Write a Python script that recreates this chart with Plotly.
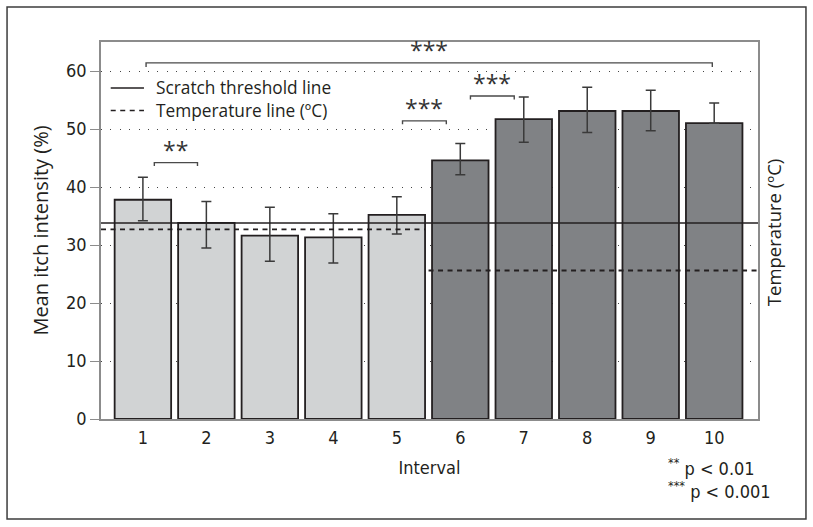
import plotly.graph_objects as go

# ---------------- data ----------------
intervals = [1, 2, 3, 4, 5, 6, 7, 8, 9, 10]
tick_labels = ["1", "2", "3", "4", "5", "6", "7", "8", "9", "10"]
mean_itch = [37.8, 33.8, 31.6, 31.3, 35.2, 44.6, 51.7, 53.1, 53.1, 51.0]
err_upper = [41.7, 37.5, 36.5, 35.4, 38.3, 47.5, 55.5, 57.2, 56.7, 54.5]
err_lower = [34.2, 29.5, 27.2, 26.9, 31.9, 42.1, 47.7, 49.4, 49.7, 51.0]
phase = ["warm"] * 5 + ["cool"] * 5

scratch_threshold = 33.8
temp_phase1 = 32.7
temp_phase2 = 25.6

sig_x0 = [1.18, 5.09, 6.16, 1.05]
sig_x1 = [1.86, 5.78, 6.85, 9.97]
sig_y = [44.2, 51.4, 55.7, 61.4]
sig_text = ["**", "***", "***", "***"]

legend_labels = ["Scratch threshold line", "Temperature line (ºC)"]

y_range = [0, 65]
x_range = [0.34, 10.69]
bar_width = 0.89

# ---------------- styles ----------------
INK = "#231f20"
FRAME = "#8c8c8c"
phase_color = {"warm": "#d1d3d4", "cool": "#808285"}
FONT_MAIN = "Open Sans, Noto Sans, sans-serif"
FONT_COND = "Liberation Sans Narrow, DejaVu Sans Condensed, Open Sans, sans-serif"
DASH = "5px,4.5px"

fig = go.Figure()

fig.add_trace(go.Bar(
    x=intervals,
    y=mean_itch,
    width=bar_width,
    marker=dict(color=[phase_color[p] for p in phase],
                line=dict(color=INK, width=1.8)),
    error_y=dict(type="data", symmetric=False,
                 array=[u - m for u, m in zip(err_upper, mean_itch)],
                 arrayminus=[m - l for m, l in zip(mean_itch, err_lower)],
                 color="#3a3a3a", thickness=1.5, width=5),
    showlegend=False,
    hoverinfo="skip",
))

fig.add_trace(go.Scatter(
    x=[x_range[0], x_range[1]],
    y=[scratch_threshold, scratch_threshold],
    mode="lines",
    line=dict(color=INK, width=1.6),
    name=legend_labels[0],
    showlegend=False,
))

split_left = 5 + bar_width / 2
split_right = 5.5
fig.add_trace(go.Scatter(
    x=[x_range[0], split_left, None, split_right, x_range[1]],
    y=[temp_phase1, temp_phase1, None, temp_phase2, temp_phase2],
    mode="lines",
    connectgaps=False,
    line=dict(color=INK, width=1.8, dash=DASH),
    name=legend_labels[1],
    showlegend=False,
))

shapes = []
annotations = []
for x0, x1, y, t in zip(sig_x0, sig_x1, sig_y, sig_text):
    d = 0.7 if x1 - x0 > 3 else 0.6
    shapes.append(dict(type="path", xref="x", yref="y",
                       path=f"M {x0},{y - d} L {x0},{y} L {x1},{y} L {x1},{y - d}",
                       line=dict(color="#4a4a4a", width=1.4)))
    annotations.append(dict(x=(x0 + x1) / 2, y=y, xref="x", yref="y",
                            text=t, showarrow=False, yanchor="bottom",
                            yshift=-5,
                            font=dict(family=FONT_MAIN, size=23, color="#333333")))

# hand-drawn legend (line samples + labels)
leg_x0, leg_x1, leg_tx = 0.0148, 0.0654, 0.0807
leg_y = [0.8780, 0.8183]
leg_dash = ["solid", DASH]
for lbl, ly, dsh in zip(legend_labels, leg_y, leg_dash):
    shapes.append(dict(type="line", xref="paper", yref="paper",
                       x0=leg_x0, x1=leg_x1, y0=ly, y1=ly,
                       line=dict(color=INK, width=1.6, dash=dsh)))
    annotations.append(dict(x=leg_tx, y=ly, xref="paper", yref="paper",
                            text=lbl, showarrow=False,
                            xanchor="left", yanchor="middle",
                            font=dict(family=FONT_MAIN, size=17.3, color=INK)))

# outer frame
shapes.append(dict(type="rect", xref="paper", yref="paper",
                   x0=-0.143, x1=1.073, y0=-0.265, y1=1.093,
                   line=dict(color="#3c3c3c", width=1.5)))

# right axis title
annotations.append(dict(x=1.024, y=0.495, xref="paper", yref="paper",
                        text="Temperature (ºC)", textangle=-90, showarrow=False,
                        xanchor="center", yanchor="middle",
                        font=dict(family=FONT_MAIN, size=18.5, color=INK)))
# footnotes
annotations.append(dict(x=0.86, y=-0.1265, xref="paper", yref="paper",
                        text="<sup>**</sup> p &lt; 0.01",
                        showarrow=False, xanchor="left", yanchor="middle",
                        font=dict(family=FONT_COND, size=18, color=INK)))
annotations.append(dict(x=0.86, y=-0.188, xref="paper", yref="paper",
                        text="<sup>***</sup> p &lt; 0.001",
                        showarrow=False, xanchor="left", yanchor="middle",
                        font=dict(family=FONT_COND, size=18, color=INK)))

fig.update_layout(
    width=813, height=527,
    margin=dict(l=101, r=55, t=42, b=108),
    plot_bgcolor="white", paper_bgcolor="white",
    shapes=shapes,
    annotations=annotations,
    showlegend=False,
    xaxis=dict(range=x_range, tickmode="array", tickvals=intervals,
               ticktext=tick_labels, showgrid=False, zeroline=False,
               showline=True, linecolor=FRAME, linewidth=1.5, mirror=True,
               ticks="", ticklabelstandoff=2,
               tickfont=dict(family=FONT_COND, size=18, color=INK),
               title=dict(text="Interval", standoff=14,
                          font=dict(family=FONT_COND, size=18, color=INK))),
    yaxis=dict(range=y_range, dtick=10, tick0=0,
               showgrid=True, gridcolor="#444444", gridwidth=1,
               griddash="1px,8.4px", zeroline=False,
               showline=True, linecolor=FRAME, linewidth=1.5, mirror=True,
               ticks="outside", ticklen=9, tickcolor=FRAME, tickwidth=1.2,
               tickfont=dict(family=FONT_COND, size=18, color=INK),
               title=dict(text="Mean itch intensity (%)", standoff=12,
                          font=dict(family=FONT_MAIN, size=20, color=INK))),
)

fig.write_html("out.html", config={"displayModeBar": False},
               post_script="document.body.style.margin='0';")
